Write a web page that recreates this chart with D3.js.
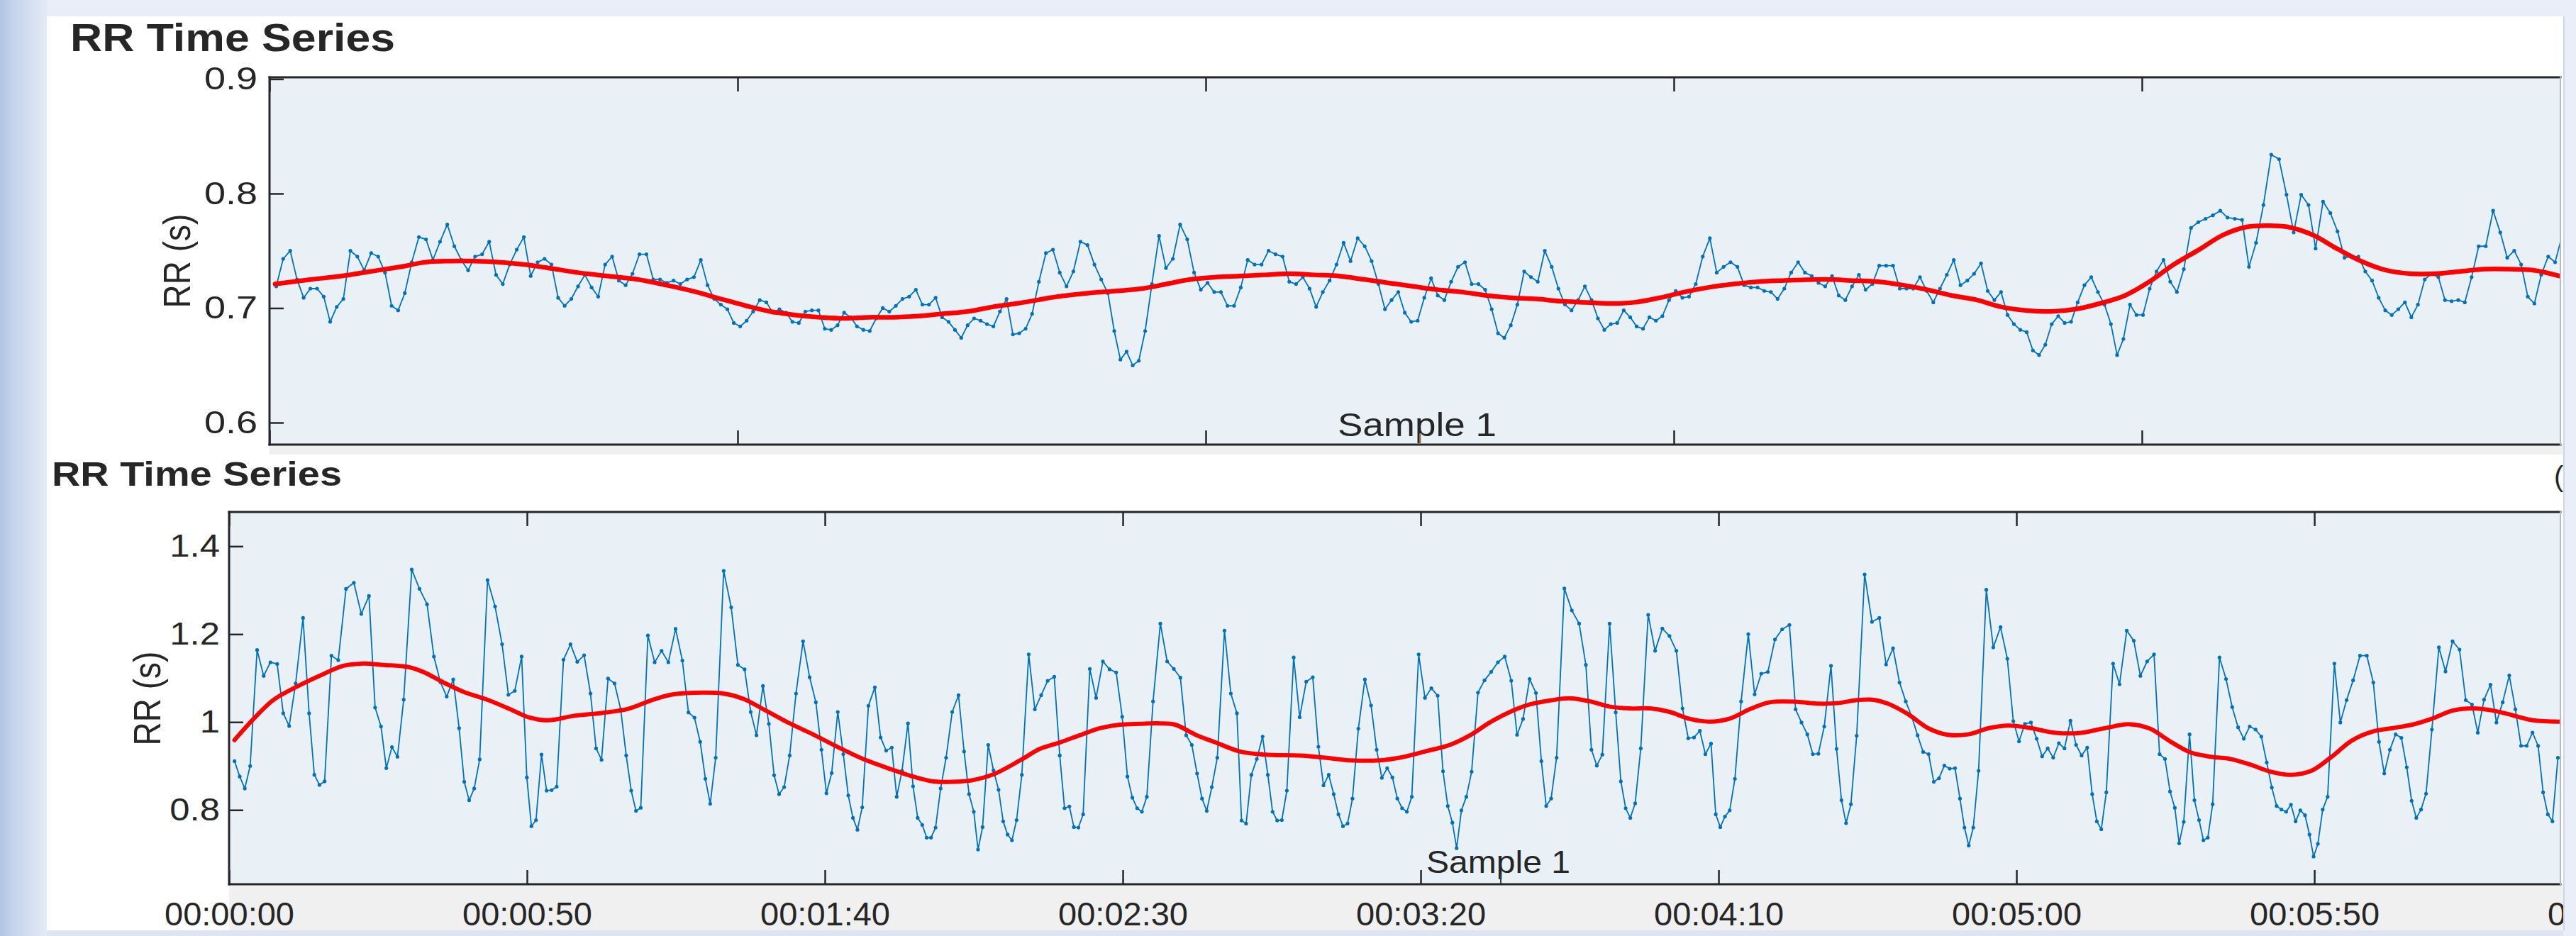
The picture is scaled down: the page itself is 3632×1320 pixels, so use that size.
<!DOCTYPE html>
<html>
<head>
<meta charset="utf-8">
<script src="https://cdn.jsdelivr.net/npm/d3@7"></script>
<style>
  html, body { margin: 0; padding: 0; background: #e9eef8; }
  svg { display: block; }
  text { font-family: "Liberation Sans", Arial, Helvetica, sans-serif; fill: #262626; }
</style>
</head>
<body>
<svg id="chart" width="3632" height="1320"></svg>
<script>
// RR intervals (s), one value per beat; beat times are the running sum
const topRR = [
  0.719,0.743,0.750,0.725,0.709,0.717,0.717,0.710,0.688,0.701,
  0.708,0.750,0.745,0.733,0.748,0.745,0.731,0.702,0.698,0.713,
  0.740,0.762,0.760,0.742,0.758,0.773,0.754,0.742,0.733,0.745,
  0.747,0.758,0.729,0.721,0.738,0.751,0.762,0.728,0.740,0.743,
  0.738,0.709,0.702,0.708,0.719,0.729,0.718,0.710,0.738,0.745,
  0.724,0.720,0.730,0.747,0.747,0.725,0.725,0.722,0.724,0.721,
  0.725,0.727,0.742,0.720,0.708,0.703,0.699,0.687,0.684,0.689,
  0.697,0.707,0.705,0.696,0.699,0.696,0.688,0.687,0.697,0.698,
  0.698,0.682,0.681,0.685,0.696,0.692,0.684,0.681,0.680,0.691,
  0.700,0.697,0.702,0.708,0.710,0.716,0.703,0.703,0.709,0.692,
  0.688,0.681,0.674,0.685,0.691,0.689,0.686,0.684,0.697,0.708,
  0.677,0.678,0.682,0.695,
  0.723,0.748,0.751,0.731,0.719,0.732,0.758,0.755,0.738,0.725,
  0.713,0.680,0.655,0.662,0.650,0.654,0.680,0.721,0.763,0.735,
  0.743,0.773,0.760,0.731,0.716,0.722,0.714,0.714,0.702,0.702,
  0.718,0.742,0.738,0.738,0.750,0.747,0.745,0.723,0.721,0.727,
  0.717,0.701,0.714,0.724,0.738,0.757,0.741,0.761,0.754,0.741,
  0.721,0.699,0.707,0.714,0.696,0.688,0.689,0.709,0.726,0.711,
  0.707,0.723,0.736,0.740,0.721,0.721,0.716,0.699,0.678,0.674,
  0.685,0.703,0.732,0.727,0.723,0.750,0.736,0.717,0.703,0.698,
  0.707,0.719,0.707,0.691,0.681,0.686,0.687,0.698,0.692,0.684,
  0.682,0.692,0.689,0.693,0.707,0.715,0.709,0.710,0.721,0.745,
  0.761,0.731,0.736,0.740,0.736,0.720,0.718,0.718,0.715,0.714,
  0.708,0.717,0.731,0.740,0.731,
  0.728,0.722,0.719,0.728,0.711,0.707,0.719,0.729,0.716,0.721,
  0.737,0.737,0.737,0.717,0.717,0.717,0.727,0.715,0.705,0.717,
  0.729,0.742,0.720,0.724,0.730,0.739,0.715,0.707,0.714,0.694,
  0.686,0.681,0.679,0.663,0.659,0.668,0.686,0.693,0.687,0.688,
  0.705,0.720,0.727,0.714,0.703,0.686,0.659,0.673,0.703,0.694,
  0.694,0.717,0.732,0.742,0.723,0.714,0.734,0.770,0.775,0.778,
  0.781,0.785,0.779,0.778,0.777,0.736,0.757,0.790,0.834,0.830,
  0.799,0.766,0.799,0.790,0.752,0.793,0.783,0.767,0.744,0.745,
  0.745,0.732,0.724,0.709,0.698,0.694,0.699,0.705,0.692,0.703,
  0.725,0.730,0.727,0.707,0.706,0.707,0.705,0.727,0.754,0.754,
  0.785,0.766,0.744,0.750,0.738,0.710,0.704,0.729,0.745,0.740,
  0.764,0.774
];

// smooth trend (red), time in s and RR in s
const topTrendTime = [
  0.6,4.5,7.7,10.8,14.0,16.6,19.3,21.9,24.5,27.2,29.8,32.9,36.1,39.3,42.4,45.6,48.2,50.9,53.5,56.1,
  58.8,61.4,64.0,66.7,69.3,71.9,74.6,77.2,79.8,84.2,87.4,90.5,93.2,95.8,98.4,101.1,103.7,106.3,109.0,111.6,
  114.2,116.9,119.5,122.1,124.8,127.4,130.0,132.7,135.3,137.9,140.6,143.2,145.8,148.5,151.1,153.7,156.4,159.0,161.6,166.0,
  169.2,171.8,174.5,177.1,179.7,182.4,185.0,187.6,190.3,192.9,195.5,198.2,200.8,203.4,206.1,208.7,211.3,213.4,215.5,218.2,
  220.8,223.4,226.1,228.7,231.3,234.0,236.6,239.2,241.9,244.6
];
const topTrendRR = [
  0.721,0.725,0.728,0.732,0.736,0.740,0.741,0.741,0.740,0.738,0.735,0.731,0.728,0.725,0.720,0.714,0.708,0.702,0.697,0.694,
  0.692,0.691,0.692,0.692,0.693,0.695,0.697,0.701,0.704,0.710,0.713,0.715,0.717,0.721,0.725,0.727,0.728,0.729,0.730,0.729,
  0.728,0.725,0.722,0.719,0.716,0.714,0.711,0.709,0.708,0.706,0.705,0.704,0.705,0.709,0.714,0.718,0.721,0.723,0.724,0.725,
  0.724,0.723,0.720,0.716,0.711,0.707,0.701,0.698,0.697,0.699,0.704,0.711,0.723,0.738,0.751,0.764,0.771,0.772,0.771,0.764,
  0.752,0.741,0.733,0.730,0.730,0.732,0.734,0.734,0.733,0.728
];

const bottomRR = [
  0.911,0.876,0.849,0.900,1.164,1.105,1.136,1.132,1.020,0.991,
  1.088,1.237,1.020,0.880,0.857,0.865,1.151,1.141,1.303,1.317,
  1.246,1.287,1.033,0.990,0.895,0.943,0.921,1.051,1.347,1.303,
  1.268,1.149,1.091,1.058,1.097,0.986,0.864,0.822,0.849,0.915,
  1.323,1.263,1.177,1.062,1.071,1.149,0.874,0.763,0.777,0.926,
  0.844,0.845,0.853,1.142,1.177,1.137,1.152,1.065,0.940,0.914,
  1.099,1.088,1.029,0.924,0.844,0.798,0.805,1.197,1.136,1.162,
  1.136,1.212,1.140,1.022,1.010,0.955,0.871,0.814,0.919,1.344,
  1.261,1.130,1.120,1.023,0.970,1.082,0.996,0.879,0.836,0.852,
  0.924,1.065,1.184,1.102,1.045,0.937,0.838,0.884,1.023,0.927,
  0.833,0.782,0.755,0.806,1.037,1.079,0.965,0.935,0.942,0.830,
  0.889,0.997,0.854,0.782,0.766,0.737,0.737,0.760,0.849,0.919,
  1.023,1.061,0.933,0.836,0.796,0.710,0.761,0.948,0.890,0.846,
  0.774,0.744,0.731,0.777,0.880,1.154,1.029,1.061,1.094,1.103,
  0.924,0.804,0.808,0.761,0.760,0.790,1.121,1.055,1.138,1.120,
  1.113,1.012,0.876,0.828,0.804,0.796,0.830,1.047,1.224,1.138,
  1.121,1.101,0.970,0.948,0.883,0.826,0.798,0.852,0.919,1.208,
  1.065,1.020,0.776,0.769,0.880,0.916,0.967,0.880,0.796,0.776,
  0.777,0.844,1.147,1.011,1.092,1.102,0.944,0.856,0.880,0.836,
  0.790,0.763,0.769,0.826,0.985,1.097,1.038,0.937,0.873,0.895,
  0.874,0.826,0.804,0.796,0.830,1.154,1.055,1.077,1.060,0.888,
  0.809,0.771,0.713,0.799,0.830,0.887,1.067,1.095,1.114,1.136,
  1.149,1.094,0.971,1.007,1.098,1.066,0.911,0.809,0.826,0.919,
  1.304,1.254,1.224,1.130,0.937,0.901,0.926,1.224,1.022,0.865,
  0.804,0.782,0.815,0.940,1.244,1.162,1.213,1.196,1.162,1.031,
  0.963,0.965,0.980,0.927,0.951,0.790,0.761,0.785,0.799,0.871,
  1.047,1.200,1.063,1.110,1.114,1.188,1.211,1.221,1.029,0.999,
  0.972,0.927,0.928,0.990,1.128,0.939,0.822,0.770,0.813,0.969,
  1.336,1.228,1.237,1.131,1.168,1.090,1.047,1.012,0.970,0.932,
  0.927,0.864,0.872,0.901,0.894,0.895,0.826,0.760,0.719,0.760,
  0.889,1.301,1.170,1.216,1.144,1.002,0.956,0.996,0.999,0.962,
  0.922,0.940,0.919,0.952,0.940,1.003,0.948,0.924,0.942,0.836,
  0.774,0.756,0.840,1.133,1.086,1.208,1.185,1.105,1.138,1.154,
  0.927,0.916,0.842,0.805,0.724,0.773,0.972,0.822,0.777,0.731,
  0.737,0.813,1.147,1.098,1.034,0.988,0.962,0.990,0.983,0.967,
  0.908,0.851,0.809,0.801,0.796,0.812,0.774,0.799,0.788,0.744,
  0.694,0.723,0.801,0.830,1.133,0.999,1.050,1.095,1.151,1.151,
  1.090,0.955,0.883,0.937,0.972,0.964,0.897,0.821,0.782,0.801,
  0.837,0.983,1.170,1.115,1.184,1.165,1.050,1.040,0.976,1.051,
  1.085,0.999,1.045,1.106,1.029,0.946,0.946,0.976,0.946,0.840,
  0.790,0.774,0.919
];

const bottomTrendTime = [
  0.9,4.1,7.4,11.6,15.8,19.2,22.5,25.9,30.1,32.6,36.0,39.3,43.5,47.7,50.2,53.6,57.8,62.8,67.0,71.2,
  74.5,79.6,82.9,86.3,89.7,93.8,98.0,102.2,106.4,110.6,114.8,118.2,121.5,124.9,128.3,132.8,136.1,139.5,142.8,146.2,
  149.5,152.9,156.3,158.8,162.1,165.5,169.7,173.9,179.7,183.9,188.1,193.2,196.5,200.7,204.9,208.3,211.6,215.0,218.3,221.7,
  225.0,228.4,231.8,235.1,238.5,241.8,245.2,248.5,251.9,255.2,258.6,263.1,266.5,269.9,273.3,275.8,278.4,281.8,285.2,288.5,
  291.9,295.3,298.7,302.1,306.3,310.6,314.8,319.0,322.4,325.8,329.2,332.6,335.9,339.3,342.7,346.1,349.5,352.9,356.3,359.7,
  363.0,366.4,369.8,373.2,376.6,380.0,383.4,386.7,391.1
];
const bottomTrendRR = [
  0.959,1.007,1.050,1.082,1.109,1.128,1.133,1.130,1.125,1.114,1.090,1.069,1.050,1.026,1.011,1.004,1.014,1.021,1.030,1.051,
  1.063,1.067,1.065,1.053,1.029,0.999,0.972,0.943,0.916,0.895,0.876,0.865,0.864,0.868,0.881,0.913,0.939,0.954,0.970,0.986,
  0.994,0.996,0.997,0.994,0.972,0.954,0.933,0.926,0.924,0.919,0.913,0.913,0.919,0.933,0.948,0.970,0.999,1.023,1.040,1.049,
  1.054,1.047,1.035,1.031,1.031,1.023,1.007,1.001,1.008,1.029,1.045,1.046,1.042,1.043,1.050,1.051,1.042,1.018,0.986,0.971,
  0.972,0.986,0.992,0.987,0.976,0.975,0.986,0.995,0.985,0.956,0.931,0.921,0.916,0.903,0.887,0.880,0.889,0.921,0.958,0.978,
  0.986,0.994,1.008,1.026,1.031,1.026,1.015,1.004,1.001
];

const topYTicks = [0.6, 0.7, 0.8, 0.9];
const bottomYTicks = [0.8, 1.0, 1.2, 1.4];
const topXTicks = [0, 50, 100, 150, 200];
const bottomXTicks = [0, 50, 100, 150, 200, 250, 300, 350, 400];

const titleText = "RR Time Series";
const yLabelText = "RR (s)";
const sampleText = "Sample 1";

const W = 3632, H = 1320;
const panelL = 66, panelR = 3614, panelT = 23, panelB = 1312;

const svg = d3.select("#chart");
const defs = svg.append("defs");

const edge = defs.append("linearGradient").attr("id", "edge")
  .attr("x1", 0).attr("x2", 1).attr("y1", 0).attr("y2", 0);
edge.append("stop").attr("offset", "0%").attr("stop-color", "#b3c5e6");
edge.append("stop").attr("offset", "40%").attr("stop-color", "#cad7ee");
edge.append("stop").attr("offset", "100%").attr("stop-color", "#e4eaf6");

defs.append("clipPath").attr("id", "panelClip")
  .append("rect").attr("x", panelL).attr("y", panelT)
  .attr("width", panelR - panelL).attr("height", panelB - panelT);

// window background
svg.append("rect").attr("width", W).attr("height", H).attr("fill", "#e9eef8");
svg.append("rect").attr("width", panelL).attr("height", H).attr("fill", "url(#edge)");
svg.append("rect").attr("x", panelL).attr("y", panelB).attr("width", panelR - panelL)
  .attr("height", H - panelB).attr("fill", "#dde5f3");
svg.append("rect").attr("x", panelL).attr("y", panelT).attr("width", panelR - panelL)
  .attr("height", panelB - panelT).attr("fill", "#ffffff");
svg.append("line").attr("x1", panelR + 1).attr("x2", panelR + 1).attr("y1", panelT).attr("y2", panelB)
  .attr("stroke", "#cfd7e4").attr("stroke-width", 2);

const fmtTime = s => d3.utcFormat("%H:%M:%S")(new Date(s * 1000));

function stretch(sel, sx) {
  sel.each(function () {
    const t = d3.select(this);
    const x0 = +t.attr("x") || 0;
    t.attr("x", x0 / sx).attr("transform", `scale(${sx},1)`);
  });
}

function drawPanel(cfg) {
  const x = d3.scaleLinear().domain(cfg.xDomain).range([cfg.left, cfg.right]);
  const y = d3.scaleLinear().domain(cfg.yDomain).range([cfg.bottom, cfg.top]);

  const g = svg.append("g").attr("clip-path", "url(#panelClip)");

  // grey strip under the axes
  g.append("rect").attr("x", cfg.left).attr("y", cfg.bottom)
    .attr("width", panelR - cfg.left).attr("height", cfg.stripH).attr("fill", "#f0f0f0");

  // axes background
  g.append("rect").attr("x", cfg.left).attr("y", cfg.top)
    .attr("width", cfg.right - cfg.left).attr("height", cfg.bottom - cfg.top)
    .attr("fill", "#eaf1f6");

  const clipId = cfg.id + "Clip";
  defs.append("clipPath").attr("id", clipId).append("rect")
    .attr("x", cfg.left).attr("y", cfg.top)
    .attr("width", cfg.right - cfg.left).attr("height", cfg.bottom - cfg.top);

  const beatTimes = d3.cumsum(cfg.rr);
  const pts = cfg.rr.map((v, i) => [beatTimes[i], v]);
  const trend = d3.zip(cfg.trendTime, cfg.trendRR);

  const plot = g.append("g").attr("clip-path", `url(#${clipId})`);
  plot.append("path").datum(pts)
    .attr("d", d3.line().x(d => x(d[0])).y(d => y(d[1])))
    .attr("fill", "none").attr("stroke", "#0072bd").attr("stroke-width", 1.8)
    .attr("stroke-linejoin", "round");
  plot.append("g").selectAll("circle").data(pts).join("circle")
    .attr("cx", d => x(d[0])).attr("cy", d => y(d[1]))
    .attr("r", 2.6).attr("fill", "#0072bd");
  plot.append("path").datum(trend)
    .attr("d", d3.line().curve(d3.curveCatmullRom).x(d => x(d[0])).y(d => y(d[1])))
    .attr("fill", "none").attr("stroke", "#ff0000").attr("stroke-width", cfg.trendW)
    .attr("stroke-linecap", "round").attr("stroke-linejoin", "round");

  // y axis, ticks pointing inwards
  const ya = g.append("g").attr("transform", `translate(${cfg.left},0)`)
    .call(d3.axisLeft(y).tickValues(cfg.yTicks).tickFormat(d3.format("~g"))
      .tickSize(-20).tickPadding(cfg.yPad))
    .attr("font-size", null).attr("font-family", null);
  ya.select(".domain").remove();
  ya.selectAll("line").attr("stroke", "#262626").attr("stroke-width", 2.5);
  ya.selectAll("text").attr("font-size", cfg.yFont).attr("fill", "#262626");
  stretch(ya.selectAll("text"), cfg.ySx);

  // x ticks top and bottom
  const xt = g.append("g").attr("transform", `translate(0,${cfg.top})`)
    .call(d3.axisTop(x).tickValues(cfg.xTicks).tickFormat("").tickSize(-20));
  const xb = g.append("g").attr("transform", `translate(0,${cfg.bottom})`)
    .call(d3.axisBottom(x).tickValues(cfg.xTicks)
      .tickFormat(cfg.showTime ? fmtTime : "").tickSize(-20))
    .attr("font-size", null).attr("font-family", null);
  [xt, xb].forEach(a => {
    a.select(".domain").remove();
    a.selectAll("line").attr("stroke", "#262626").attr("stroke-width", 2.5);
  });
  xb.selectAll("text").attr("y", 58).attr("dy", null)
    .attr("font-size", 47).attr("fill", "#262626");

  // box
  const box = g.append("g").attr("stroke-linecap", "square");
  box.append("line").attr("x1", cfg.left).attr("x2", cfg.right).attr("y1", cfg.top).attr("y2", cfg.top)
    .attr("stroke", "#262626").attr("stroke-width", 3);
  box.append("line").attr("x1", cfg.left).attr("x2", cfg.right).attr("y1", cfg.bottom).attr("y2", cfg.bottom)
    .attr("stroke", "#262626").attr("stroke-width", 3);
  box.append("line").attr("x1", cfg.left).attr("x2", cfg.left).attr("y1", cfg.top).attr("y2", cfg.bottom)
    .attr("stroke", "#262626").attr("stroke-width", 3);
  box.append("line").attr("x1", cfg.right).attr("x2", cfg.right).attr("y1", cfg.top).attr("y2", cfg.bottom)
    .attr("stroke", "#b4bac2").attr("stroke-width", 2);

  // texts
  g.append("text").attr("x", cfg.titleX).attr("y", cfg.titleY)
    .attr("font-size", cfg.titleFont).attr("font-weight", "bold")
    .attr("textLength", cfg.titleLen).attr("lengthAdjust", "spacingAndGlyphs")
    .attr("fill", "#111").text(titleText);

  g.append("text")
    .attr("transform", `translate(${cfg.yLabelX},${cfg.yLabelY}) scale(1.15,1) rotate(-90)`)
    .attr("text-anchor", "middle").attr("dy", "0.35em")
    .attr("font-size", 46).text(yLabelText);

  g.append("text").attr("x", cfg.sampleX).attr("y", cfg.sampleY)
    .attr("font-size", cfg.sampleFont)
    .attr("textLength", cfg.sampleLen).attr("lengthAdjust", "spacingAndGlyphs")
    .attr("fill", "#111").text(sampleText);

  return { x, y, g };
}

const topPanel = drawPanel({
  id: "top", rr: topRR, trendTime: topTrendTime, trendRR: topTrendRR,
  left: 380, right: 3610, top: 109, bottom: 627, stripH: 14,
  xDomain: [0, 244.7], yDomain: [0.5808, 0.9015],
  yTicks: topYTicks, xTicks: topXTicks, showTime: false,
  yPad: 17, yFont: 45, ySx: 1.2, trendW: 6.5,
  titleX: 99, titleY: 71.5, titleFont: 56, titleLen: 458,
  yLabelX: 249, yLabelY: 368,
  sampleX: 1886, sampleY: 615, sampleFont: 47, sampleLen: 224
});

const bottomPanel = drawPanel({
  id: "bottom", rr: bottomRR, trendTime: bottomTrendTime, trendRR: bottomTrendRR,
  left: 323, right: 3610, top: 722, bottom: 1247, stripH: 65,
  xDomain: [0, 391.3], yDomain: [0.631, 1.478],
  yTicks: bottomYTicks, xTicks: bottomXTicks, showTime: true,
  yPad: 13, yFont: 45, ySx: 1.13, trendW: 6,
  titleX: 73, titleY: 685, titleFont: 48, titleLen: 409,
  yLabelX: 207, yLabelY: 985,
  sampleX: 2011, sampleY: 1231, sampleFont: 44, sampleLen: 203
});

// small data-cursor marks and the clipped glyph at the right edge
const marks = svg.append("g").attr("clip-path", "url(#panelClip)");
marks.append("line").attr("x1", 2002).attr("x2", 2002).attr("y1", 611).attr("y2", 626)
  .attr("stroke", "#9c6b2e").attr("stroke-width", 2);
marks.append("line").attr("x1", 2116).attr("x2", 2116).attr("y1", 1234).attr("y2", 1246)
  .attr("stroke", "#3a3a3a").attr("stroke-width", 2);
marks.append("text").attr("x", 3601).attr("y", 686).attr("font-size", 40)
  .attr("fill", "#3a2418").text("(");
</script>
</body>
</html>
